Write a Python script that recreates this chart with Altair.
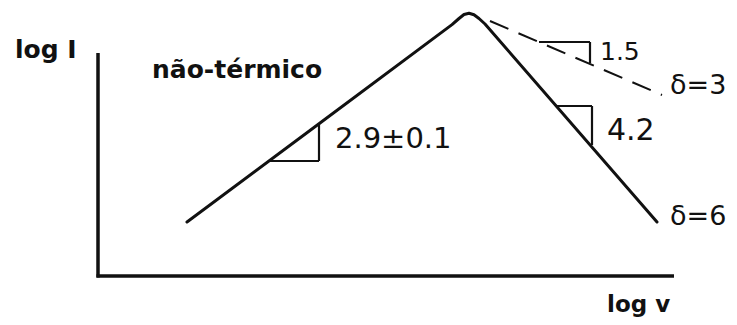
import altair as alt
import pandas as pd

# Schematic spectrum (arbitrary units: log nu horizontally, log I vertically)
curve_lognu = [8.9, 22.1, 35.4, 36.1, 36.6, 37.1, 37.6, 38.1, 38.7, 55.9]
curve_logI = [5.4, 15.23, 25.14, 25.75, 26.15, 26.27, 26.12, 25.75, 25.2, 5.4]

# flatter high-frequency branch (delta = 3), dashed
dashed_lognu = [39.2, 56.4]
dashed_logI = [25.5, 18.1]

# coordinate axes (segments)
axis_x1 = [0.0, -0.15]
axis_x2 = [0.0, 57.6]
axis_y1 = [-0.15, 0.0]
axis_y2 = [22.3, 0.0]

# slope triangles legs (2.9, 4.2, 1.5)
leg_x1 = [17.0, 22.1, 45.8, 49.4, 44.1, 49.2]
leg_x2 = [22.1, 22.1, 49.4, 49.4, 49.2, 49.2]
leg_y1 = [11.5, 11.5, 17.0, 17.0, 23.4, 23.4]
leg_y2 = [11.5, 15.3, 17.0, 13.1, 23.4, 21.3]

# labels
num_text = ["2.9\u00b10.1", "4.2", "1.5", "\u03b4=3", "\u03b4=6"]
num_x = [23.7, 50.9, 50.2, 57.2, 57.2]
num_y = [12.8, 13.6, 21.6, 18.2, 5.1]
num_size = [29, 30, 25, 27, 27]

bold_text = ["log I", "n\u00e3o-t\u00e9rmico", "log v"]
bold_x = [-8.3, 5.4, 50.9]
bold_y = [21.8, 19.8, -3.6]
bold_size = [25, 25, 23]

xs = alt.Scale(domain=[-9.0, 63.1], nice=False, zero=False)
ys = alt.Scale(domain=[-4.1, 26.8], nice=False, zero=False)

curve_df = pd.DataFrame({"nu": curve_lognu, "I": curve_logI, "o": range(len(curve_lognu))})
dash_df = pd.DataFrame({"nu": dashed_lognu, "I": dashed_logI, "o": range(len(dashed_lognu))})
axis_df = pd.DataFrame({"x1": axis_x1, "x2": axis_x2, "y1": axis_y1, "y2": axis_y2})
leg_df = pd.DataFrame({"x1": leg_x1, "x2": leg_x2, "y1": leg_y1, "y2": leg_y2})
num_df = pd.DataFrame({"t": num_text, "x": num_x, "y": num_y, "s": num_size})
bold_df = pd.DataFrame({"t": bold_text, "x": bold_x, "y": bold_y, "s": bold_size})

ink = "#111111"

curve = alt.Chart(curve_df).mark_line(color=ink, strokeWidth=3, strokeCap="round", strokeJoin="round").encode(
    x=alt.X("nu:Q", scale=xs, axis=None),
    y=alt.Y("I:Q", scale=ys, axis=None),
    order="o:Q",
)

dashed = alt.Chart(dash_df).mark_line(color=ink, strokeWidth=2, strokeDash=[20, 11]).encode(
    x=alt.X("nu:Q", scale=xs, axis=None),
    y=alt.Y("I:Q", scale=ys, axis=None),
    order="o:Q",
)

axes = alt.Chart(axis_df).mark_rule(color=ink, strokeWidth=3.5).encode(
    x=alt.X("x1:Q", scale=xs, axis=None),
    x2="x2:Q",
    y=alt.Y("y1:Q", scale=ys, axis=None),
    y2="y2:Q",
)

legs = alt.Chart(leg_df).mark_rule(color=ink, strokeWidth=2.2).encode(
    x=alt.X("x1:Q", scale=xs, axis=None),
    x2="x2:Q",
    y=alt.Y("y1:Q", scale=ys, axis=None),
    y2="y2:Q",
)

nums = alt.Chart(num_df).mark_text(
    align="left", baseline="alphabetic", font="DejaVu Sans", color=ink
).encode(
    x=alt.X("x:Q", scale=xs, axis=None),
    y=alt.Y("y:Q", scale=ys, axis=None),
    text="t:N",
    size=alt.Size("s:Q", scale=None, legend=None),
)

bolds = alt.Chart(bold_df).mark_text(
    align="left", baseline="alphabetic", font="DejaVu Sans", fontWeight="bold", color=ink
).encode(
    x=alt.X("x:Q", scale=xs, axis=None),
    y=alt.Y("y:Q", scale=ys, axis=None),
    text="t:N",
    size=alt.Size("s:Q", scale=None, legend=None),
)

chart = alt.layer(axes, curve, dashed, legs, nums, bolds).properties(
    width=721, height=309, padding=0, autosize=alt.AutoSizeParams(type="none"), background="white"
).configure_view(stroke=None)

chart.save("out.html", embed_options={"renderer": "svg", "actions": False})
